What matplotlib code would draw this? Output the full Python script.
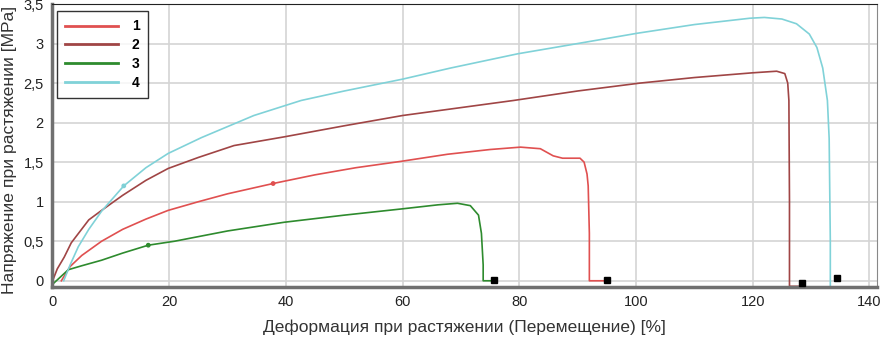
import matplotlib
matplotlib.use('Agg')
import matplotlib.pyplot as plt

plt.rcParams['font.family'] = ['Liberation Sans', 'DejaVu Sans']

# curve 1 (red)
X1 = [1.5, 3, 5, 8.4, 12, 16, 19.8, 25, 30, 37.8, 45, 52, 59.7, 67.7, 75,
      80.2, 83.6, 85.8, 87.4, 90.4, 91.1, 91.6, 91.8, 92.0, 92.0, 94.4]
Y1 = [0, 0.18, 0.32, 0.5, 0.65, 0.78, 0.89, 1.0, 1.1, 1.23, 1.34, 1.43, 1.51,
      1.6, 1.66, 1.69, 1.67, 1.58, 1.55, 1.55, 1.5, 1.35, 1.2, 0.6, 0.0, 0.0]
# curve 2 (dark red)
X2 = [0, 0.8, 2, 3.2, 6.2, 8.4, 12, 16, 19.8, 25, 31.1, 39.7, 50, 60, 70, 79,
      90, 100.7, 110, 120, 124.1, 125.5, 126.0, 126.2, 126.3, 126.3, 128]
Y2 = [0, 0.15, 0.3, 0.48, 0.77, 0.89, 1.08, 1.27, 1.42, 1.56, 1.71, 1.82, 1.96,
      2.09, 2.19, 2.28, 2.4, 2.5, 2.57, 2.63, 2.65, 2.62, 2.5, 2.28, 1.0, -0.07, -0.07]
# curve 3 (green)
X3 = [0.2, 2.7, 5, 8.4, 12, 16.4, 20.9, 30, 39.7, 50, 60, 66, 69.4, 71.6, 73,
      73.5, 73.8, 73.8, 75]
Y3 = [-0.03, 0.14, 0.19, 0.26, 0.35, 0.45, 0.5, 0.63, 0.74, 0.83, 0.91, 0.96,
      0.98, 0.95, 0.83, 0.6, 0.2, 0.0, 0.0]
# curve 4 (cyan)
X4 = [1.9, 3, 4.4, 6.2, 8.4, 12.2, 16, 19.8, 25.5, 34.5, 42.6, 50, 60, 68.2,
      79.7, 90, 100.2, 110, 119.5, 122, 125, 127.5, 129.7, 131, 132, 132.8,
      133.1, 133.3, 133.3]
Y4 = [0, 0.2, 0.43, 0.65, 0.88, 1.2, 1.43, 1.61, 1.81, 2.09, 2.28, 2.4, 2.55,
      2.69, 2.87, 3.0, 3.13, 3.24, 3.32, 3.33, 3.31, 3.25, 3.12, 2.95, 2.69,
      2.28, 1.8, 0.5, -0.07]

# end-of-test markers
END_X = [75.6, 95.0, 128.4, 134.5]
END_Y = [0.01, 0.01, -0.03, 0.03]

# small point markers on curves
DOT_X = [37.8, 16.4, 12.2]
DOT_Y = [1.23, 0.45, 1.2]
DOT_C = ['#e05050', '#2e8b2e', '#7fd0d6']

LABELS = ['1', '2', '3', '4']
COLORS = ['#e05050', '#a04545', '#2e8b2e', '#80d2d8']

fig = plt.figure(figsize=(8.83, 3.48), dpi=100)
ax = fig.add_axes([0.0589, 0.175, 0.9343, 0.8135])

for xs, ys, c, lab in zip([X1, X2, X3, X4], [Y1, Y2, Y3, Y4], COLORS, LABELS):
    ax.plot(xs, ys, color=c, linewidth=1.2, label=lab)

ax.scatter(DOT_X, DOT_Y, s=6, c=DOT_C, zorder=3)
ax.plot(END_X, END_Y, 's', color='black', markersize=5, linestyle='none', zorder=4)

ax.set_xlim(-0.1, 141.3)
ax.set_ylim(-0.08, 3.5)
ax.set_xticks([0, 20, 40, 60, 80, 100, 120, 140])
ax.set_yticks([0, 0.5, 1, 1.5, 2, 2.5, 3, 3.5])
ax.set_yticklabels(['0', '0,5', '1', '1,5', '2', '2,5', '3', '3,5'])
ax.tick_params(length=0, labelsize=10.5, colors='#222222', pad=6)
ax.grid(color='#d4d4d4', linewidth=1.2)
ax.set_axisbelow(True)

for side in ['left', 'bottom']:
    ax.spines[side].set_color('#707070')
    ax.spines[side].set_linewidth(2.5)
ax.spines['top'].set_color('#222222')
ax.spines['right'].set_color('#888888')

ax.set_xlabel('Деформация при растяжении (Перемещение) [%]', fontsize=12.5,
              color='#333333', labelpad=7)
ax.set_ylabel('Напряжение при растяжении [MPa]', fontsize=12.6,
              color='#333333')
ax.yaxis.set_label_coords(-0.043, 0.485)

leg = ax.legend(loc='upper left', bbox_to_anchor=(0.006, 0.975), frameon=True,
                borderaxespad=0, fancybox=False, edgecolor='black',
                handlelength=3.8, handletextpad=1.0, labelspacing=0.35,
                borderpad=0.6, prop={'weight': 'bold', 'size': 10})
leg.get_frame().set_linewidth(1.0)
for line in leg.get_lines():
    line.set_linewidth(2.0)

fig.savefig('out.png', dpi=100)
